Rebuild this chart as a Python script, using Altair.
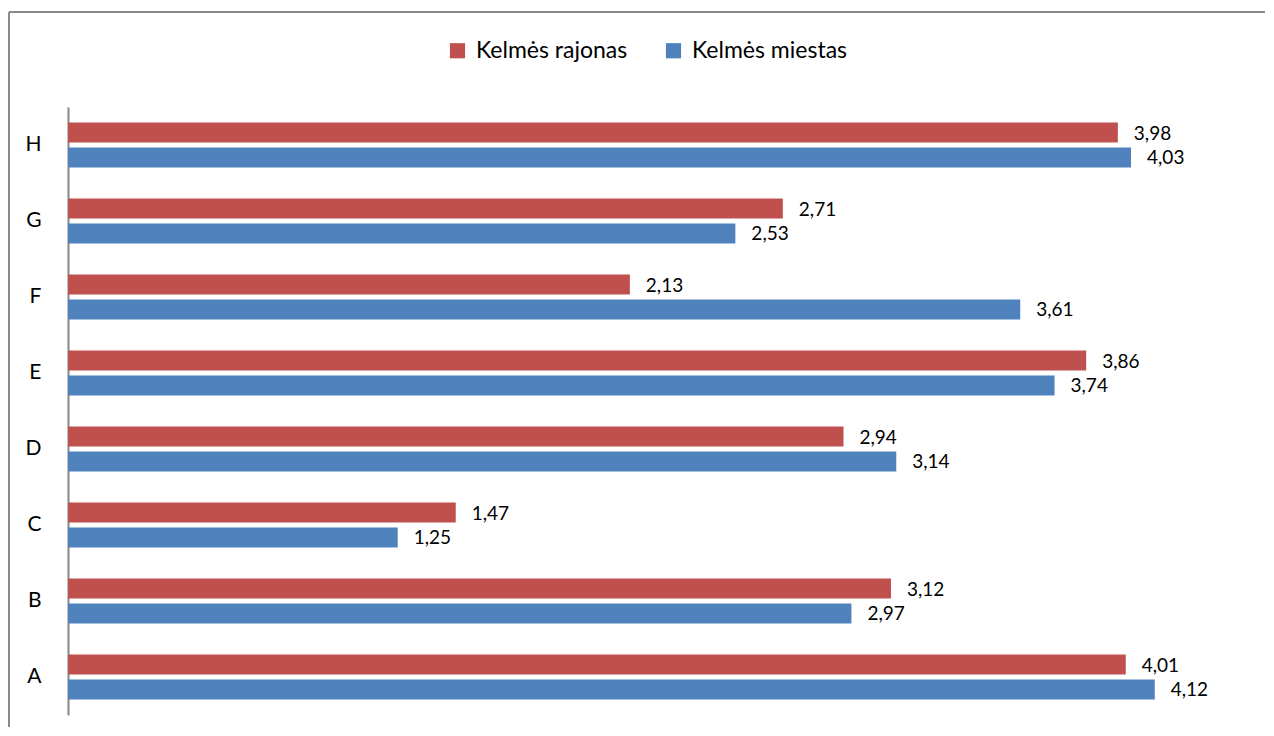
import altair as alt
import pandas as pd

categories = ["A", "B", "C", "D", "E", "F", "G", "H"]
series_names = ["Kelmės rajonas", "Kelmės miestas"]
rajonas = [4.01, 3.12, 1.47, 2.94, 3.86, 2.13, 2.71, 3.98]
miestas = [4.12, 2.97, 1.25, 3.14, 3.74, 3.61, 2.53, 4.03]
colors = ["#C0504D", "#4F81BD"]

rows = []
for c, r, m in zip(categories, rajonas, miestas):
    rows.append({"cat": c, "series": series_names[0], "value": r, "label": f"{r:.2f}".replace(".", ",")})
    rows.append({"cat": c, "series": series_names[1], "value": m, "label": f"{m:.2f}".replace(".", ",")})
df = pd.DataFrame(rows)

FONT = "Lato"

y_enc = alt.Y("cat:N", sort=categories[::-1],
              scale=alt.Scale(paddingInner=0.408, paddingOuter=0.204),
              axis=alt.Axis(title=None, ticks=False, domainColor="#868686", domainWidth=2,
                            labelFont=FONT, labelFontSize=21, labelFontWeight="normal",
                            labelColor="#000000", labelPadding=27, labelAngle=0))
yoff = alt.YOffset("series:N", sort=series_names,
                   scale=alt.Scale(paddingInner=0.2, paddingOuter=0))
x_enc = alt.X("value:Q", scale=alt.Scale(domain=[0, 4.5], nice=False, zero=True), axis=None)

base = alt.Chart(df)

bars = base.mark_bar(size=20).encode(
    x=x_enc,
    y=y_enc,
    yOffset=yoff,
    color=alt.Color("series:N", sort=series_names,
                    scale=alt.Scale(domain=series_names, range=colors),
                    legend=alt.Legend(title=None, orient="none", legendX=378, legendY=-68,
                                      direction="horizontal", symbolType="square",
                                      symbolSize=230, symbolStrokeWidth=0,
                                      labelFont=FONT, labelFontSize=23, labelFontWeight="normal",
                                      labelColor="#000000",
                                      labelOffset=7, columnPadding=34)),
)

texts = base.mark_text(align="left", baseline="middle", dx=16, dy=1,
                       font=FONT, fontSize=19, color="#000000").encode(
    x=x_enc,
    y=alt.Y("cat:N", sort=categories[::-1]),
    yOffset=alt.YOffset("series:N", sort=series_names),
    text="label:N",
)

frame_df = pd.DataFrame({"k": [0]})
left_border = alt.Chart(frame_df).mark_rule(color="#8a8a8a", strokeWidth=2).encode(
    x=alt.value(-59), y=alt.value(-95), y2=alt.value(640))
top_border = alt.Chart(frame_df).mark_rule(color="#8a8a8a", strokeWidth=2).encode(
    x=alt.value(-59), x2=alt.value(1212), y=alt.value(-95))

chart = alt.layer(bars, texts, left_border, top_border).properties(
    width=1187, height=608,
    background="#ffffff",
    autosize=alt.AutoSizeParams(type="none"),
    padding={"left": 60, "top": 99, "right": 10, "bottom": 12},
).configure_view(strokeWidth=0)

chart.save("out.html", embed_options={"renderer": "svg", "actions": False})
